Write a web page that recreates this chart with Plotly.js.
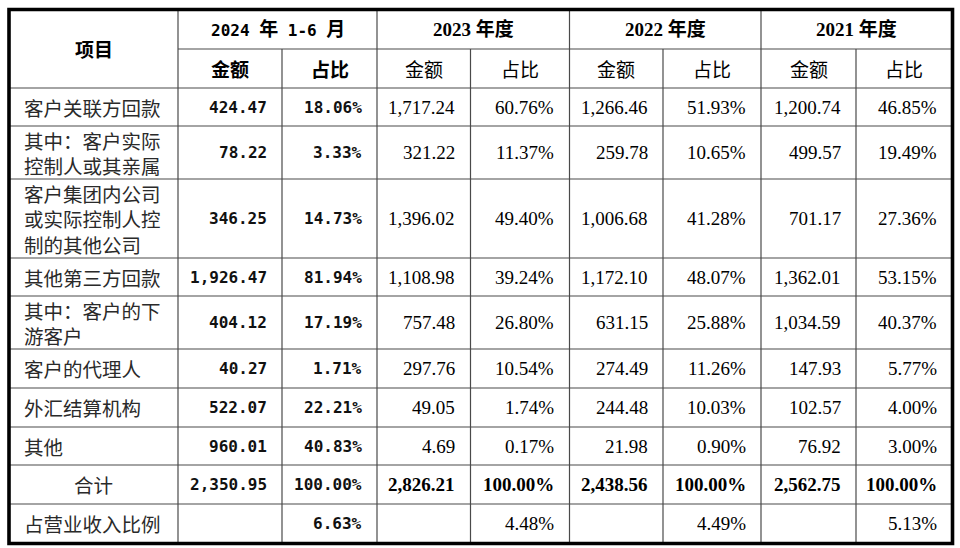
<!DOCTYPE html>
<html>
<head>
<meta charset="utf-8">
<script src="https://cdn.plot.ly/plotly-3.0.1.min.js"></script>
<style>html,body{margin:0;padding:0;background:#fff}</style>
</head>
<body>
<div id="chart" style="width:960px;height:548px"></div>
<script>
  // table content
  const periods = ["2024 年 1-6 月", "2023 年度", "2022 年度", "2021 年度"];
  const subHeads = ["金额", "占比"];
  const items = [
    "客户关联方回款",
    "其中：客户实际<br>控制人或其亲属",
    "客户集团内公司<br>或实际控制人控<br>制的其他公司",
    "其他第三方回款",
    "其中：客户的下<br>游客户",
    "客户的代理人",
    "外汇结算机构",
    "其他",
    "合计",
    "占营业收入比例"
  ];
  const amount2024 = [424.47, 78.22, 346.25, 1926.47, 404.12, 40.27, 522.07, 960.01, 2350.95, null];
  const ratio2024 = [18.06, 3.33, 14.73, 81.94, 17.19, 1.71, 22.21, 40.83, 100.00, 6.63];
  const amount2023 = [1717.24, 321.22, 1396.02, 1108.98, 757.48, 297.76, 49.05, 4.69, 2826.21, null];
  const ratio2023 = [60.76, 11.37, 49.40, 39.24, 26.80, 10.54, 1.74, 0.17, 100.00, 4.48];
  const amount2022 = [1266.46, 259.78, 1006.68, 1172.10, 631.15, 274.49, 244.48, 21.98, 2438.56, null];
  const ratio2022 = [51.93, 10.65, 41.28, 48.07, 25.88, 11.26, 10.03, 0.90, 100.00, 4.49];
  const amount2021 = [1200.74, 499.57, 701.17, 1362.01, 1034.59, 147.93, 102.57, 76.92, 2562.75, null];
  const ratio2021 = [46.85, 19.49, 27.36, 53.15, 40.37, 5.77, 4.00, 3.00, 100.00, 5.13];
  const unitNote = "单位：万元";

  // grid geometry (pixels on a 960x548 canvas)
  const colX = [9, 178, 282, 377, 470.5, 569.5, 663, 761, 856, 952.5];
  const rowY = [9.5, 49, 88, 126, 179, 258, 296, 349, 388, 427, 465, 504, 543.5];

  const CJK = "'Noto Sans CJK SC', sans-serif";
  const SERIF = "'Liberation Serif', 'Noto Sans CJK SC', serif";
  const MONO = "'DejaVu Sans Mono', 'Noto Sans CJK SC', monospace";

  function fmtAmount(v) {
    if (v === null || v === undefined) return "";
    return v.toLocaleString("en-US", { minimumFractionDigits: 2, maximumFractionDigits: 2 });
  }

  function fmtRatio(v) {
    if (v === null || v === undefined) return "";
    return v.toFixed(2) + "%";
  }

  function bigCjk(text) {
    return text.replace(/([\u4e00-\u9fff])/g, '<span style="font-size:19px">$1</span>');
  }

  function label(x, y, text, font, xanchor) {
    return {
      x, y, text, xref: "x", yref: "y",
      showarrow: false, xanchor: xanchor || "center", yanchor: "middle",
      align: xanchor || "center",
      font: Object.assign({ color: "#000" }, font)
    };
  }

  function buildShapes() {
    const shapes = [];
    const thin = { color: "#4a4a4a", width: 1.2 };
    const left = colX[0], right = colX[colX.length - 1];
    const top = rowY[0], bottom = rowY[rowY.length - 1];

    // header split line under the period titles
    shapes.push({ type: "line", x0: colX[1], x1: right, y0: rowY[1], y1: rowY[1], line: thin });
    for (let r = 2; r < rowY.length - 1; r++) {
      shapes.push({ type: "line", x0: left, x1: right, y0: rowY[r], y1: rowY[r], line: thin });
    }
    for (let c = 1; c < colX.length - 1; c++) {
      const start = c % 2 === 1 ? top : rowY[1];
      shapes.push({ type: "line", x0: colX[c], x1: colX[c], y0: start, y1: bottom, line: thin });
    }
    shapes.push({
      type: "rect", x0: left, x1: right, y0: top, y1: bottom,
      line: { color: "#000", width: 3.6 }
    });
    return shapes;
  }

  function buildAnnotations() {
    const notes = [];
    const mid = (a, b) => (a + b) / 2;
    const pad = 13.5;
    const itemFont = { family: CJK, size: 19.5, color: "#2a2a2a" };

    notes.push({
      x: 942, y: 3, xref: "x", yref: "y", text: unitNote, showarrow: false,
      xanchor: "right", yanchor: "bottom", font: { family: CJK, size: 19.5, color: "#111" }
    });

    notes.push(label(mid(colX[0], colX[1]), mid(rowY[0], rowY[2]), "<b>项目</b>", { family: CJK, size: 19 }));

    periods.forEach((p, i) => {
      const cx = mid(colX[1 + i * 2], colX[3 + i * 2]);
      const cy = mid(rowY[0], rowY[1]);
      if (i === 0) {
        notes.push(label(cx, cy, "<b>" + bigCjk(p) + "</b>", { family: MONO, size: 16 }));
      } else {
        notes.push(label(cx, cy, "<b>" + p + "</b>", { family: SERIF, size: 19 }));
      }
      subHeads.forEach((s, j) => {
        const sx = mid(colX[1 + i * 2 + j], colX[2 + i * 2 + j]);
        const txt = i === 0 ? "<b>" + s + "</b>" : s;
        notes.push(label(sx, mid(rowY[1], rowY[2]), txt, { family: CJK, size: 19 }));
      });
    });

    const serifCols = [amount2023, ratio2023, amount2022, ratio2022, amount2021, ratio2021];

    items.forEach((name, r) => {
      const cy = mid(rowY[r + 2], rowY[r + 3]);
      const isTotal = name === "合计";
      if (isTotal) {
        notes.push(label(mid(colX[0], colX[1]), cy, name, itemFont));
      } else {
        notes.push(label(22, cy, name, itemFont, "left"));
      }

      const a = fmtAmount(amount2024[r]);
      if (a) notes.push(label(colX[2] - pad, cy, "<b>" + a + "</b>", { family: MONO, size: 16, color: "#111" }, "right"));
      notes.push(label(colX[3] - pad, cy, "<b>" + fmtRatio(ratio2024[r]) + "</b>", { family: MONO, size: 16, color: "#111" }, "right"));

      serifCols.forEach((col, k) => {
        const v = k % 2 === 0 ? fmtAmount(col[r]) : fmtRatio(col[r]);
        if (!v) return;
        const txt = isTotal ? "<b>" + v + "</b>" : v;
        notes.push(label(colX[4 + k] - pad, cy, txt, { family: SERIF, size: 19 }, "right"));
      });
    });
    return notes;
  }

  Plotly.newPlot(
    "chart",
    [
      {
        type: "scatter",
        mode: "markers",
        x: [0, 960],
        y: [0, 548],
        marker: { opacity: 0 },
        hoverinfo: "skip",
        showlegend: false
      }
    ],
    {
      width: 960,
      height: 548,
      margin: { l: 0, r: 0, t: 0, b: 0 },
      paper_bgcolor: "#fff",
      plot_bgcolor: "#fff",
      xaxis: { range: [0, 960], visible: false, fixedrange: true },
      yaxis: { range: [548, 0], visible: false, fixedrange: true },
      shapes: buildShapes(),
      annotations: buildAnnotations(),
      showlegend: false
    },
    { displayModeBar: false, staticPlot: true }
  );
</script>
</body>
</html>
